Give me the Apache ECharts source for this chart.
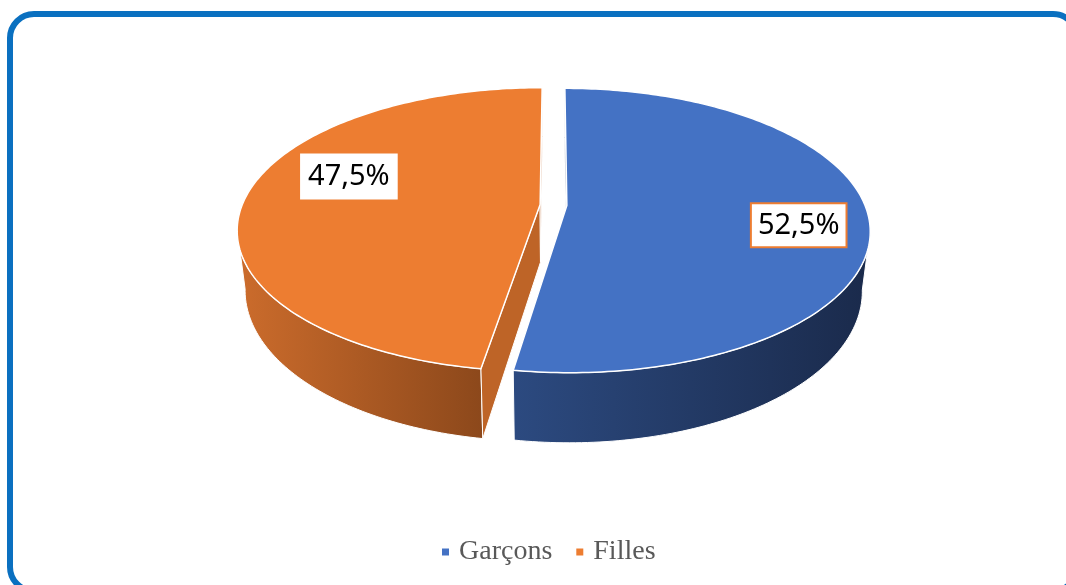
<!DOCTYPE html>
<html>
<head>
<meta charset="utf-8">
<script src="https://cdn.jsdelivr.net/npm/echarts@6/dist/echarts.min.js"></script>
<style>
  html, body { margin: 0; padding: 0; background: #fff; }
  #chart { width: 1066px; height: 585px; }
</style>
</head>
<body>
<div id="chart"></div>
<script>
const categories = ['Garçons', 'Filles'];
const shares = [52.5, 47.5];
const shareLabels = ['52,5%', '47,5%'];

// look of each slice
const topColors = ['#4472C4', '#ED7D31'];
const wallColors = [['#2C4A80', '#1A2A4B'], ['#CC6C2C', '#8C481B']];
const cutColors = ['#1F3864', '#BE6427'];
const labelBorders = ['#ED7D31', '#FFFFFF'];
const labelTweak = [[6, 0.77], [13, 0.7]]; // angle shift (deg), radius

// tilted disc seen in perspective, like the office 3D pie
const CX = 553.5, CY = 205, RX = 298, RY = 137.6, K = 0.176, DEPTH = 57.7, EXPLODE = 0.045;
const SIL = Math.acos(-K) * 180 / Math.PI; // where the rim turns away

const rad = (d) => d * Math.PI / 180;
const total = shares.reduce((a, b) => a + b, 0);

function sliceAngles(i) {
  let start = 0;
  for (let j = 0; j < i; j++) start += shares[j] / total * 360;
  const end = start + shares[i] / total * 360;
  return [start, end, (start + end) / 2];
}

function project(X, Z, low) {
  const s = 1 + K * Z;
  const k = low ? 0.975 : 1;
  return [CX + RX * k * X / s, CY - RY * Z / s + (low ? DEPTH / s : 0)];
}

function renderSlice(i) {
  return function () {
    const [a0, a1, mid] = sliceAngles(i);
    const ex = EXPLODE * Math.sin(rad(mid));
    const ez = EXPLODE * Math.cos(rad(mid));
    const P = (deg, r, low) => project(r * Math.sin(rad(deg)) + ex, r * Math.cos(rad(deg)) + ez, low);
    const arc = (from, to, low) => {
      const n = Math.max(2, Math.ceil(Math.abs(to - from)));
      const pts = [];
      for (let k = 0; k <= n; k++) pts.push(P(from + (to - from) * k / n, 1, low));
      return pts;
    };
    const children = [];

    // outer wall, only the part facing us
    const w0 = Math.max(a0, SIL);
    const w1 = Math.min(a1, 360 - SIL);
    if (w1 > w0) {
      children.push({
        type: 'polygon',
        shape: { points: arc(w0, w1, false).concat(arc(w1, w0, true)) },
        style: {
          fill: new echarts.graphic.LinearGradient(0, 0, 1, 0, [
            { offset: 0, color: wallColors[i][0] },
            { offset: 1, color: wallColors[i][1] },
          ]),
          stroke: '#fff',
          lineWidth: 1,
        },
      });
    }

    // cut faces
    const camZ = -1 / K;
    [[a0, -1], [a1, 1]].forEach(([a, sgn]) => {
      const nX = sgn * Math.cos(rad(a));
      const nZ = -sgn * Math.sin(rad(a));
      const mX = 0.5 * Math.sin(rad(a)) + ex;
      const mZ = 0.5 * Math.cos(rad(a)) + ez;
      if (nX * (0 - mX) + nZ * (camZ - mZ) > 0) {
        children.push({
          type: 'polygon',
          shape: { points: [P(a, 0, false), P(a, 1, false), P(a, 1, true), P(a, 0, true)] },
          style: { fill: cutColors[i], stroke: '#fff', lineWidth: 1 },
        });
      }
    });

    // top
    children.push({
      type: 'polygon',
      shape: { points: [P(0, 0, false)].concat(arc(a0, a1, false)) },
      style: { fill: topColors[i], stroke: '#fff', lineWidth: 1.5 },
    });

    const lp = P(mid + labelTweak[i][0], labelTweak[i][1], false);
    children.push({
      type: 'text',
      x: lp[0],
      y: lp[1],
      style: {
        text: shareLabels[i],
        fontSize: 29,
        fontFamily: 'Noto Sans',
        fill: '#000',
        align: 'center',
        verticalAlign: 'middle',
        backgroundColor: '#fff',
        borderColor: labelBorders[i],
        borderWidth: 2,
        padding: [7, 6, 6, 6],
      },
    });

    return { type: 'group', children };
  };
}

const myChart = echarts.init(document.getElementById('chart'));
const option = {
  animation: false,
  backgroundColor: '#fff',
  legend: {
    data: categories,
    left: 437,
    top: 533,
    icon: 'rect',
    itemWidth: 7,
    itemHeight: 7,
    itemGap: 24,
    selectedMode: false,
    textStyle: {
      fontFamily: 'Liberation Serif',
      fontSize: 28,
      color: '#595959',
      padding: [0, 0, 0, 5],
    },
  },
  graphic: [
    {
      type: 'rect',
      silent: true,
      shape: { x: 10, y: 14, width: 1067, height: 577, r: 24 },
      style: { fill: 'none', stroke: '#0A70C0', lineWidth: 6 },
    },
  ],
  series: categories.map((name, i) => ({
    type: 'custom',
    name: name,
    coordinateSystem: 'none',
    silent: true,
    itemStyle: { color: topColors[i] },
    data: [shares[i]],
    renderItem: renderSlice(i),
  })),
};
myChart.setOption(option);
</script>
</body>
</html>
